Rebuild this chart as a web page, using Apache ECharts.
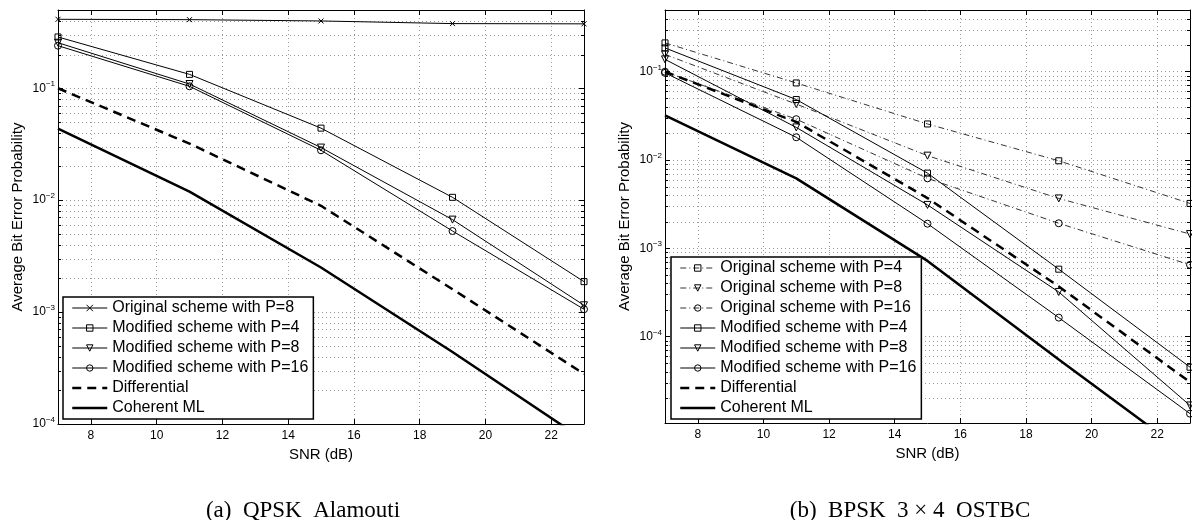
<!DOCTYPE html>
<html><head><meta charset="utf-8">
<script src="https://cdn.jsdelivr.net/npm/echarts@6/dist/echarts.min.js"></script>
<style>html,body{margin:0;padding:0;background:#fff}#c{width:1192px;height:520px}</style>
</head><body><div id="c"></div>
<script>
// ---------- data ----------
const snr = [7, 11, 15, 19, 23];

// (a) QPSK Alamouti
const aOrigP8   = [0.413, 0.41, 0.399, 0.378, 0.376];
const aModP4    = [0.287, 0.133, 0.044, 0.0106, 0.00187];
const aModP8    = [0.255, 0.109, 0.0295, 0.0067, 0.00115];
const aModP16   = [0.240, 0.104, 0.0279, 0.0053, 0.00106];
const aDiff     = [0.100, 0.032, 0.0089, 0.0016, 0.00028];
const aCoherent = [0.0436, 0.0119, 0.0025, 0.00044, 0.000072];

// (b) BPSK 3x4 OSTBC
const bOrigP4   = [0.212, 0.0746, 0.0256, 0.0098, 0.00322];
const bOrigP8   = [0.157, 0.043, 0.0112, 0.00367, 0.00145];
const bOrigP16  = [0.100, 0.029, 0.0062, 0.00192, 0.00065];
const bModP4    = [0.186, 0.0484, 0.0071, 0.00058, 0.000045];
const bModP8    = [0.138, 0.0234, 0.0031, 0.00032, 0.0000166];
const bModP16   = [0.097, 0.0181, 0.0019, 0.000164, 0.0000134];
const bDiff     = [0.100, 0.027, 0.0037, 0.00037, 0.0000305];
const bCoherent = [0.032, 0.0062, 0.00072, 0.000055, 0.0000044];

const legendA = ['Original scheme with P=8', 'Modified scheme with P=4', 'Modified scheme with P=8',
  'Modified scheme with P=16', 'Differential', 'Coherent ML'];
const legendB = ['Original scheme with P=4', 'Original scheme with P=8', 'Original scheme with P=16',
  'Modified scheme with P=4', 'Modified scheme with P=8', 'Modified scheme with P=16', 'Differential', 'Coherent ML'];

const captionA = '(a)  QPSK  Alamouti';
const captionB = '(b)  BPSK  3 × 4  OSTBC';
const xTitle = 'SNR (dB)';
const yTitle = 'Average Bit Error Probability';

// ---------- styling ----------
const FONT = 'Liberation Sans';
const SYM_X = 'path://M0,0L10,10M10,0L0,10';
const pair = ys => snr.map((x, i) => [x, ys[i]]);

function minorValues(minExp, maxVal) {
  const out = [];
  for (let e = minExp; e <= 0; e++) {
    for (let k = 2; k <= 9; k++) {
      const v = k * Math.pow(10, e);
      if (v < maxVal) out.push([7, v]);
    }
  }
  return out;
}

function minorRender(params, api) {
  const cs = params.coordSys;
  const p = api.coord([api.value(0), api.value(1)]);
  const y = Math.round(p[1]) + 0.5;
  if (y < cs.y + 1 || y > cs.y + cs.height - 1) return null;
  return {
    type: 'group', silent: true, children: [
      {type: 'line', shape: {x1: cs.x, y1: y, x2: cs.x + cs.width, y2: y},
        style: {stroke: '#9a9a9a', lineWidth: 1, lineDash: [1, 3]}},
      {type: 'line', shape: {x1: cs.x, y1: y, x2: cs.x + 3, y2: y}, style: {stroke: '#000', lineWidth: 1}},
      {type: 'line', shape: {x1: cs.x + cs.width - 3, y1: y, x2: cs.x + cs.width, y2: y}, style: {stroke: '#000', lineWidth: 1}}
    ]
  };
}

function expLabel(v) {
  const e = Math.round(Math.log10(v));
  return '{b|10}{e|' + (e < 0 ? '−' : '') + Math.abs(e) + '}';
}

function xAxes(gi) {
  return [
    {type: 'value', gridIndex: gi, position: 'bottom', min: 7, max: 23, splitNumber: 8,
      axisLine: {show: true, onZero: false, lineStyle: {color: '#000', width: 1}},
      axisTick: {show: true, inside: true, length: 5, lineStyle: {color: '#000'}},
      axisLabel: {show: true, color: '#000', fontFamily: FONT, fontSize: 12, margin: 6,
        showMinLabel: false, showMaxLabel: false},
      splitLine: {show: true, lineStyle: {color: '#9a9a9a', type: [1, 3], width: 1}},
      name: xTitle, nameLocation: 'middle', nameGap: 19,
      nameTextStyle: {color: '#000', fontFamily: FONT, fontSize: 15}},
    {type: 'value', gridIndex: gi, position: 'top', min: 7, max: 23, splitNumber: 8,
      axisLine: {show: true, onZero: false, lineStyle: {color: '#000', width: 1}},
      axisTick: {show: true, inside: true, length: 5, lineStyle: {color: '#000'}},
      axisLabel: {show: false}, splitLine: {show: false}}
  ];
}

function yAxes(gi, min, max, showMin) {
  return [
    {type: 'log', logBase: 10, gridIndex: gi, position: 'left', min: min, max: max,
      axisLine: {show: true, onZero: false, lineStyle: {color: '#000', width: 1}},
      axisTick: {show: true, inside: true, length: 5, lineStyle: {color: '#000'}},
      axisLabel: {show: true, color: '#000', fontFamily: FONT, margin: 3,
        showMinLabel: showMin, showMaxLabel: false, formatter: expLabel,
        rich: {b: {fontSize: 12, fontFamily: FONT, color: '#000', lineHeight: 16},
               e: {fontSize: 8, fontFamily: FONT, color: '#000', verticalAlign: 'top', lineHeight: 10}}},
      splitLine: {show: true, lineStyle: {color: '#9a9a9a', type: [1, 3], width: 1}},
      name: yTitle, nameLocation: 'middle', nameGap: 33, nameRotate: 90,
      nameTextStyle: {color: '#000', fontFamily: FONT, fontSize: 15}},
    {type: 'log', logBase: 10, gridIndex: gi, position: 'right', min: min, max: max,
      axisLine: {show: true, onZero: false, lineStyle: {color: '#000', width: 1}},
      axisTick: {show: true, inside: true, length: 5, lineStyle: {color: '#000'}},
      axisLabel: {show: false}, splitLine: {show: false}}
  ];
}

const DASH = [9, 6];
const DASHDOT = [6, 3, 1, 3];

// per-legend-entry look: symbol, rotation, line width, dash
const styleOf = {
  'Original scheme with P=8|a': {symbol: SYM_X, size: 5, width: 1},
  'Original scheme with P=4': {symbol: 'rect', size: 6, width: 0.8, dash: DASHDOT},
  'Original scheme with P=8': {symbol: 'triangle', size: 7, rotate: 180, width: 0.8, dash: DASHDOT},
  'Original scheme with P=16': {symbol: 'circle', size: 7, width: 0.8, dash: DASHDOT},
  'Modified scheme with P=4': {symbol: 'rect', size: 6, width: 1},
  'Modified scheme with P=8': {symbol: 'triangle', size: 7, rotate: 180, width: 1},
  'Modified scheme with P=16': {symbol: 'circle', size: 7, width: 1},
  'Differential': {width: 2.5, dash: DASH},
  'Coherent ML': {width: 2.5}
};

function lineSeries(id, label, ys, xi, yi, st) {
  const hasSym = !!st.symbol;
  return {
    type: 'line', name: id, data: pair(ys), xAxisIndex: xi, yAxisIndex: yi,
    showSymbol: hasSym, symbol: st.symbol || 'circle', symbolSize: st.size || 7,
    symbolRotate: st.rotate || 0,
    lineStyle: {color: '#000', width: st.width, type: st.dash || 'solid'},
    itemStyle: {color: 'rgba(255,255,255,0)', borderColor: '#000', borderWidth: hasSym ? 1 : 0},
    emphasis: {disabled: true}, animation: false, clip: true, z: 3
  };
}

const seriesA = [aOrigP8, aModP4, aModP8, aModP16, aDiff, aCoherent];
const seriesB = [bOrigP4, bOrigP8, bOrigP16, bModP4, bModP8, bModP16, bDiff, bCoherent];

const series = [
  {type: 'custom', name: 'minorA', xAxisIndex: 0, yAxisIndex: 0, data: minorValues(-4, 0.5),
    renderItem: minorRender, z: 1, silent: true, animation: false, clip: false},
  {type: 'custom', name: 'minorB', xAxisIndex: 2, yAxisIndex: 2, data: minorValues(-5, 0.5),
    renderItem: minorRender, z: 1, silent: true, animation: false, clip: false}
];
legendA.forEach((n, i) => {
  const st = (i === 0) ? styleOf['Original scheme with P=8|a'] : styleOf[n];
  series.push(lineSeries('a:' + n, n, seriesA[i], 0, 0, st));
});
legendB.forEach((n, i) => {
  series.push(lineSeries('b:' + n, n, seriesB[i], 2, 2, styleOf[n]));
});

function legend(prefix, names, left, top) {
  return {
    data: names.map((n, i) => {
      const st = (prefix === 'a:' && i === 0) ? styleOf['Original scheme with P=8|a'] : styleOf[n];
      const hasSym = !!st.symbol;
      return {
        name: prefix + n,
        itemStyle: {color: 'rgba(255,255,255,0)', borderColor: hasSym ? '#000' : 'rgba(0,0,0,0)', borderWidth: hasSym ? 1 : 0},
        lineStyle: {color: '#000', width: st.width, type: st.dash || 'solid'}
      };
    }),
    formatter: name => name.slice(2),
    orient: 'vertical', left: left, top: top,
    itemWidth: 35, itemHeight: 8, itemGap: 0,
    padding: [1, 5, 1, 8],
    backgroundColor: '#fff', borderColor: '#000', borderWidth: 1.5, borderRadius: 0,
    selectedMode: false, inactiveColor: '#000',
    textStyle: {color: '#000', fontFamily: FONT, fontSize: 16, lineHeight: 20},
    z: 10
  };
}

const chart = echarts.init(document.getElementById('c'), null, {renderer: 'canvas'});
chart.setOption({
  backgroundColor: '#fff',
  animation: false,
  grid: [
    {left: 58, top: 10, width: 526, height: 414, containLabel: false, outerBoundsMode: 'none', show: false},
    {left: 665, top: 10, width: 525, height: 413, containLabel: false, outerBoundsMode: 'none', show: false}
  ],
  xAxis: [...xAxes(0), ...xAxes(1)],
  yAxis: [...yAxes(0, 1e-4, 0.5, true), ...yAxes(1, 1.05e-5, 0.5, false)],
  legend: [legend('a:', legendA, 63, 297), legend('b:', legendB, 671, 257)],
  title: [
    {text: captionA, left: 298, top: 494, textAlign: 'center',
      textStyle: {fontFamily: 'Liberation Serif', fontSize: 23, fontWeight: 'normal', color: '#000'}},
    {text: captionB, left: 905, top: 494, textAlign: 'center',
      textStyle: {fontFamily: 'Liberation Serif', fontSize: 23, fontWeight: 'normal', color: '#000'}}
  ],
  tooltip: {show: false},
  series: series
});
</script>
</body></html>
